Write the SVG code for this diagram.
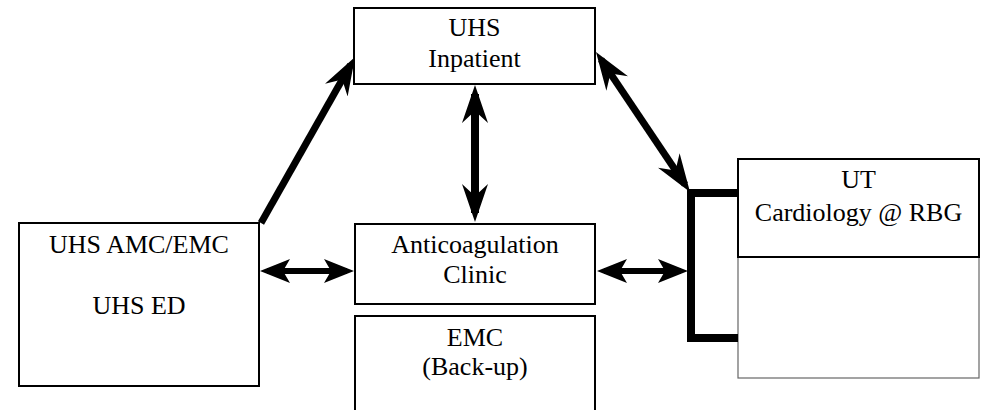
<svg xmlns="http://www.w3.org/2000/svg" width="983" height="410" viewBox="0 0 983 410">
<style>
.box{fill:#fff;stroke:#000;stroke-width:2}
.sub{fill:#fff;stroke:#666;stroke-width:1.2}
.t{font-family:'Liberation Serif','Times New Roman',serif;font-size:26px;fill:#000;text-anchor:middle}
.c{stroke:#000;fill:none;stroke-linecap:butt}
</style>
<defs>
<marker id="big" markerUnits="userSpaceOnUse" viewBox="0 0 38 28" markerWidth="38" markerHeight="28" refX="29" refY="14" orient="auto-start-reverse">
<path d="M38,14 Q19,7.5 0,1 L12,14 L0,27 Q19,20.5 38,14 Z" fill="#000"/>
</marker>
<marker id="small" markerUnits="userSpaceOnUse" viewBox="0 0 30 26" markerWidth="30" markerHeight="26" refX="23" refY="13" orient="auto-start-reverse">
<path d="M30,13 Q15,7 0,1 L7,13 L0,25 Q15,19 30,13 Z" fill="#000"/>
</marker>
</defs>
<rect width="983" height="410" fill="#fff"/>
<g id="inpatient">
<rect class="box" x="354" y="8" width="241" height="76"/>
<text class="t" x="474.5" y="36">UHS</text>
<text class="t" x="474.5" y="67">Inpatient</text>
</g>
<g id="amc">
<rect class="box" x="19" y="223" width="240" height="163"/>
<text class="t" x="139" y="253">UHS AMC/EMC</text>
<text class="t" x="139" y="314">UHS ED</text>
</g>
<g id="anticoag">
<rect class="box" x="355" y="224" width="240" height="80"/>
<text class="t" x="475" y="253">Anticoagulation</text>
<text class="t" x="475" y="283">Clinic</text>
</g>
<g id="emc">
<rect class="box" x="355" y="316" width="240" height="110"/>
<text class="t" x="475" y="346">EMC</text>
<text class="t" x="475" y="375">(Back-up)</text>
</g>
<g id="ut">
<rect class="sub" x="738" y="257" width="241" height="121"/>
<rect class="box" x="738" y="159" width="241" height="98"/>
<text class="t" x="858.5" y="188">UT</text>
<text class="t" x="858.5" y="221">Cardiology @ RBG</text>
</g>
<g id="connectors">
<line class="c" x1="261" y1="223" x2="350.6" y2="64.8" stroke-width="7" marker-end="url(#big)"/>
<line class="c" x1="601" y1="59.5" x2="685" y2="184.5" stroke-width="7" marker-start="url(#big)" marker-end="url(#big)"/>
<line class="c" x1="475" y1="94" x2="475" y2="213" stroke-width="8" marker-start="url(#big)" marker-end="url(#big)"/>
<line class="c" x1="267" y1="271" x2="347" y2="271" stroke-width="6" marker-start="url(#small)" marker-end="url(#small)"/>
<line class="c" x1="604" y1="271" x2="681" y2="271" stroke-width="6" marker-start="url(#small)" marker-end="url(#small)"/>
<path class="c" d="M738,193 H691 V338 H738" stroke-width="8" stroke-linejoin="miter"/>
</g>
</svg>
